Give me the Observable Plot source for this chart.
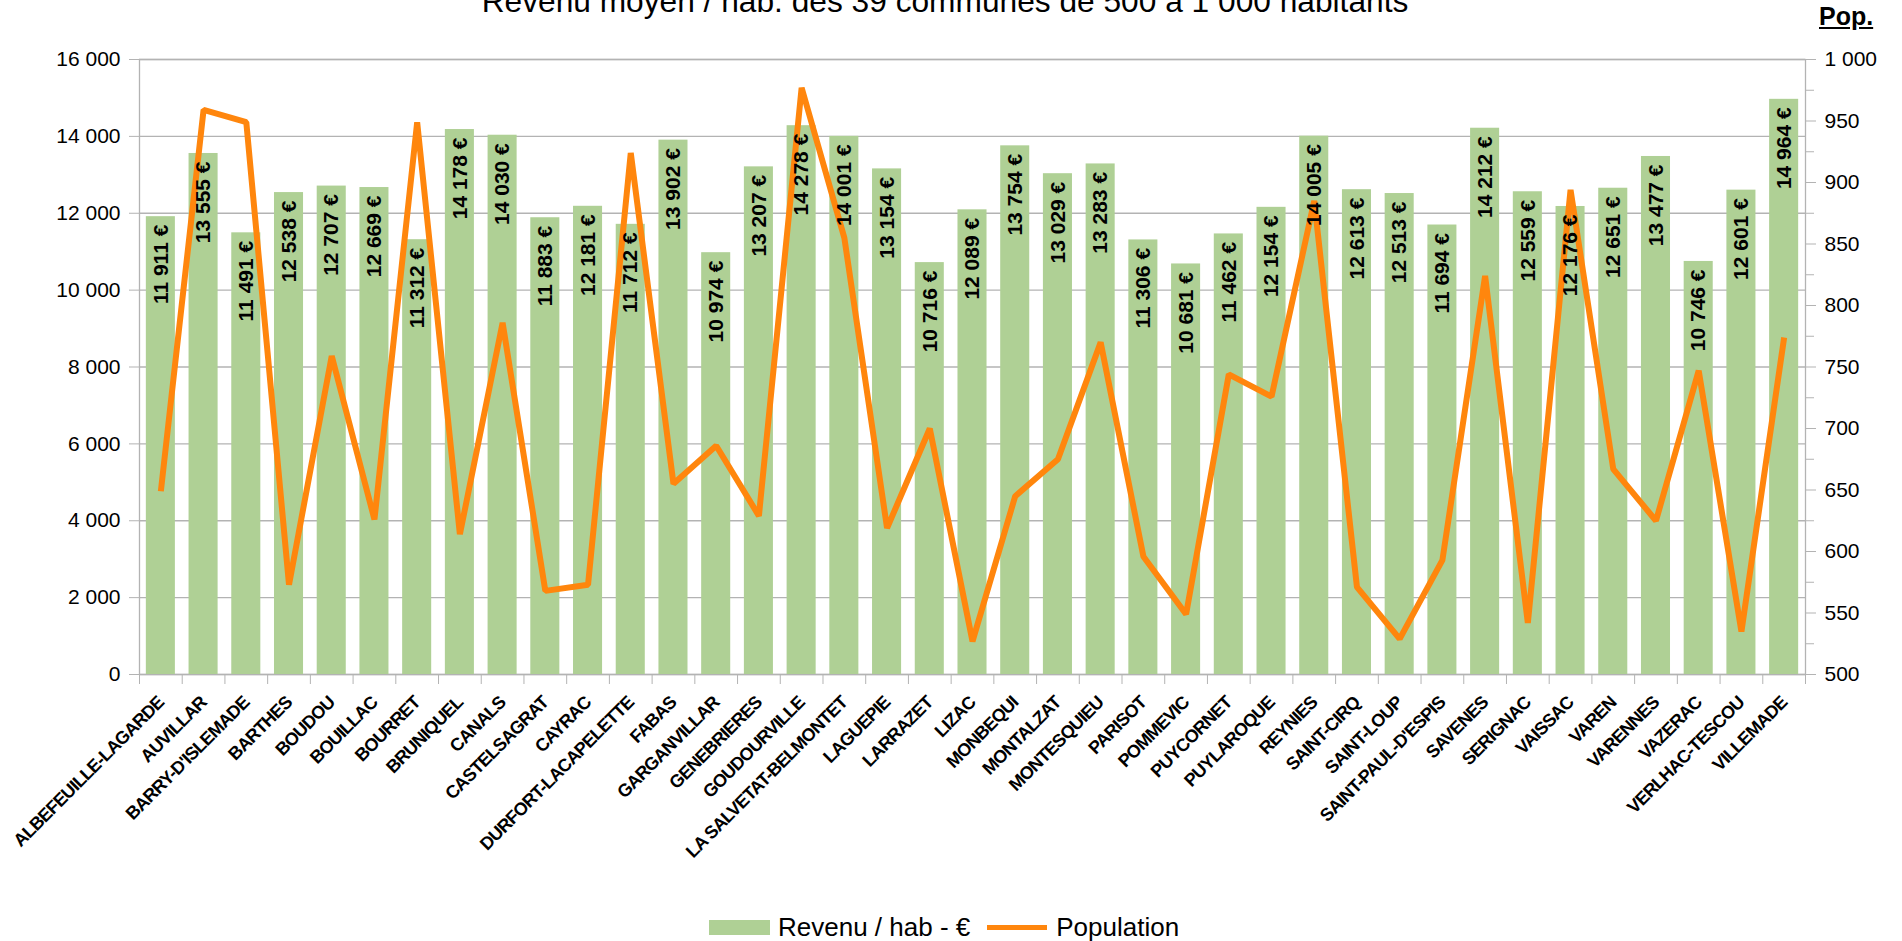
<!DOCTYPE html>
<html>
<head>
<meta charset="utf-8">
<script src="https://cdn.jsdelivr.net/npm/d3@7"></script>
<script src="https://cdn.jsdelivr.net/npm/@observablehq/plot@0.6"></script>
<style>
  html, body { margin: 0; padding: 0; background: white; overflow: hidden; }
  body { width: 1902px; height: 941px; position: relative; font-family: "Liberation Sans", Arial, sans-serif; }
  #title { position: absolute; z-index: 2; top: -15px; left: 0; width: 1890px; text-align: center; font-size: 31.7px; line-height: 32px; color: #000; white-space: nowrap; }
  #pop { position: absolute; z-index: 2; top: 4px; left: 1819px; font-size: 25px; line-height: 25px; font-weight: bold; text-decoration: underline; color: #000; }
  #chart { position: absolute; z-index: 1; top: 0; left: 0; }
  #legend { position: absolute; top: 914px; left: 709px; display: flex; align-items: center; font-size: 26px; line-height: 26px; color: #000; white-space: nowrap; }
  .sw-bar { width: 61px; height: 15px; background: #afd095; margin-right: 8px; }
  .sw-line { width: 60px; height: 5px; background: #ff860d; margin-left: 17px; margin-right: 9px; }
  g[aria-label="x-axis tick label"] text { letter-spacing: -0.8px; }
</style>
</head>
<body>
<div id="title">Revenu moyen / hab. des 39 communes de 500 à 1 000 habitants</div>
<div id="pop">Pop.</div>
<div id="chart"></div>
<div id="legend"><div class="sw-bar"></div><span>Revenu / hab - €</span><div class="sw-line"></div><span>Population</span></div>
<script>
const communes = [
  "ALBEFEUILLE-LAGARDE", "AUVILLAR", "BARRY-D'ISLEMADE", "BARTHES", "BOUDOU", "BOUILLAC",
  "BOURRET", "BRUNIQUEL", "CANALS", "CASTELSAGRAT", "CAYRAC", "DURFORT-LACAPELETTE",
  "FABAS", "GARGANVILLAR", "GENEBRIERES", "GOUDOURVILLE", "LA SALVETAT-BELMONTET", "LAGUEPIE",
  "LARRAZET", "LIZAC", "MONBEQUI", "MONTALZAT", "MONTESQUIEU", "PARISOT", "POMMEVIC",
  "PUYCORNET", "PUYLAROQUE", "REYNIES", "SAINT-CIRQ", "SAINT-LOUP", "SAINT-PAUL-D'ESPIS",
  "SAVENES", "SERIGNAC", "VAISSAC", "VAREN", "VARENNES", "VAZERAC", "VERLHAC-TESCOU", "VILLEMADE"
];
const revenu = [
  11911, 13555, 11491, 12538, 12707, 12669,
  11312, 14178, 14030, 11883, 12181, 11712,
  13902, 10974, 13207, 14278, 14001, 13154,
  10716, 12089, 13754, 13029, 13283, 11306, 10681,
  11462, 12154, 14005, 12613, 12513, 11694,
  14212, 12559, 12176, 12651, 13477, 10746, 12601, 14964
];
const population = [
  649, 959, 949, 573, 759, 626,
  949, 614, 786, 568, 573, 924,
  655, 686, 629, 977, 855, 619,
  700, 527, 645, 675, 770, 596, 549,
  744, 726, 885, 571, 529, 593,
  824, 542, 894, 667, 625, 747, 535, 774
];
const revenuTicks = [0, 2000, 4000, 6000, 8000, 10000, 12000, 14000, 16000];
const popTicks = [500, 550, 600, 650, 700, 750, 800, 850, 900, 950, 1000];
const popMinorTicks = [525, 575, 625, 675, 725, 775, 825, 875, 925, 975];

const data = communes.map((c, i) => ({commune: c, revenu: revenu[i], pop: population[i]}));

// secondary axis: population 500..1000 shares the frame of revenue 0..16000
const popToY = p => (p - 500) * (16000 / 500);
const yToPop = v => 500 + v * (500 / 16000);

const fr = d3.formatLocale({decimal: ",", thousands: "\u00a0", grouping: [3], currency: ["", "\u00a0€"]});
const fmtNum = fr.format(",d");
const fmtEuro = v => fmtNum(v) + "\u00a0€";

const W = 1902, H = 870, ML = 139, MR = 97, MT = 59, MB = 196;
const step = (W - ML - MR) / communes.length;
const grey = "#b3b3b3";

const chart = Plot.plot({
  width: W, height: H,
  marginLeft: ML, marginRight: MR, marginTop: MT, marginBottom: MB,
  style: {fontFamily: "Liberation Sans, Arial, sans-serif", background: "transparent", overflow: "visible", color: "black"},
  x: {type: "band", domain: communes, paddingInner: 0.32, paddingOuter: 0.16, round: false, axis: null, label: null},
  y: {domain: [0, 16000], axis: null, label: null},
  marks: [
    Plot.gridY(revenuTicks, {stroke: grey, strokeOpacity: 1, strokeWidth: 1.3}),
    Plot.frame({stroke: grey, strokeWidth: 1.3}),
    Plot.barY(data, {x: "commune", y: "revenu", fill: "#afd095"}),
    Plot.line(data, {x: "commune", y: d => popToY(d.pop), stroke: "#ff860d", strokeWidth: 6, strokeLinejoin: "miter", strokeLinecap: "butt"}),
    Plot.text(data, {x: "commune", y: "revenu", text: d => fmtEuro(d.revenu), rotate: -90, textAnchor: "end", dy: 8, fontSize: 21, fontWeight: "bold", fill: "black"}),
    Plot.axisY({anchor: "left", ticks: revenuTicks, tickFormat: fmtNum, tickSize: 10, tickPadding: 9, fontSize: 21, stroke: grey, fill: "black", label: null}),
    Plot.axisY({anchor: "right", ticks: popTicks.map(popToY), tickFormat: v => fmtNum(Math.round(yToPop(v))), tickSize: 10, tickPadding: 9, fontSize: 21, stroke: grey, fill: "black", label: null}),
    Plot.axisY({anchor: "right", ticks: popMinorTicks.map(popToY), tickFormat: () => "", tickSize: 8, stroke: grey, label: null}),
    Plot.axisX({anchor: "bottom", ticks: communes, tickFormat: () => "", tickSize: 10, dx: -step / 2, stroke: grey, label: null}),
    Plot.axisX({anchor: "bottom", ticks: [communes[communes.length - 1]], tickFormat: () => "", tickSize: 10, dx: step / 2, stroke: grey, label: null}),
    Plot.axisX({anchor: "bottom", ticks: communes, tickSize: 0, tickPadding: 25, tickRotate: -45, fontSize: 18, fontWeight: "bold", fill: "black", label: null})
  ]
});
document.getElementById("chart").appendChild(chart);
</script>
</body>
</html>
